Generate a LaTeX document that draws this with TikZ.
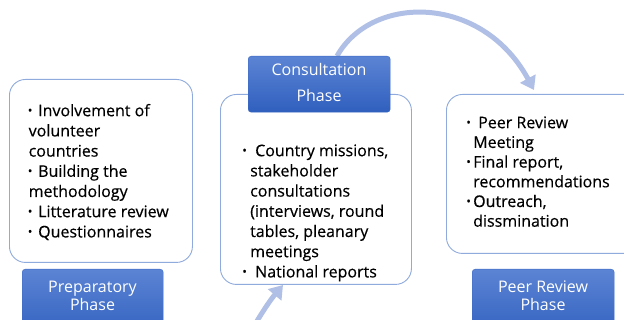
\documentclass[tikz,border=0pt]{standalone}
\usepackage{fontspec}
\setmainfont{Open Sans}
\newfontfamily\bodyfont{Open Sans}[FakeBold=0.4]
\usetikzlibrary{arrows.meta}
\definecolor{cardline}{HTML}{8FAADC}
\definecolor{flowc}{HTML}{B0BFE5}
\definecolor{phasetop}{HTML}{5C84D4}
\definecolor{phasebot}{HTML}{2F5FBE}
\newcommand\bx[1]{\makebox[#1][l]{\raisebox{-1.6pt}{\scalebox{1.35}{·}}}}
\newcommand\ind[1]{\hspace*{#1}}
\begin{document}
\begin{tikzpicture}[x=1pt,y=-1pt,
  card/.style={draw=cardline, fill=white, rounded corners=16pt, line width=0.9pt, inner sep=0pt},
  phase/.style={top color=phasetop, bottom color=phasebot, draw=phasebot!70!phasetop, rounded corners=3pt, inner sep=0pt},
  phasetext/.style={text=white, font=\fontsize{16}{18}\selectfont, inner sep=0pt, anchor=base},
  bodytext/.style={align=left, inner sep=0pt, anchor=north west, text=black},
  flow/.style={draw=flowc, line width=5pt, -{Triangle[width=17pt,length=13pt]}}]
\useasboundingbox (0,0) rectangle (624,320);
\clip (0,0) rectangle (624,320);
% arrows
\coordinate (topstart) at (337,56);
\coordinate (toptip) at (534,90);
\coordinate (botstart) at (254,326);
\coordinate (bottip) at (283,285);
\draw[flow] (topstart) .. controls (372,-6) and (482,-6) .. (toptip);
\draw[flow] (botstart) .. controls (266,306) and (272,298) .. (bottip);
% cards
\node[card, minimum width=183pt, minimum height=183pt, anchor=north west] (prepcard) at (9,79) {};
\node[card, minimum width=191pt, minimum height=190pt, anchor=north west] (conscard) at (220,94) {};
\node[card, minimum width=200pt, minimum height=159pt, anchor=north west] (peercard) at (446,94) {};
% card texts
\node[bodytext, font=\bodyfont\fontsize{16}{20.2}\selectfont] (preptxt) at (27,103) {\rule{0pt}{13pt}\bx{11pt}Involvement of\\
\ind{1.5pt}volunteer\\ \ind{1.5pt}countries\\ \bx{11pt}Building the\\ \ind{1.5pt}methodology\\ \bx{11pt}Litterature review\\ \bx{11pt}Questionnaires};
\node[bodytext, font=\bodyfont\fontsize{16}{20.2}\selectfont] (constxt) at (241.5,143) {\rule{0pt}{13pt}\bx{13.5pt}Country missions,\\
\ind{8.5pt}stakeholder\\ \ind{8.5pt}consultations\\ \ind{8.5pt}(interviews, round\\ \ind{8.5pt}tables, pleanary\\ \ind{8.5pt}meetings\\ \bx{13.5pt}National reports};
\node[bodytext, font=\bodyfont\fontsize{16}{19.7}\selectfont] (peertxt) at (465.5,115) {\rule{0pt}{13pt}\bx{12.5pt}Peer Review\\
\ind{7.5pt}Meeting\\ \bx{7.5pt}Final report,\\ \ind{7.5pt}recommendations\\ \bx{7.5pt}Outreach,\\ \ind{7.5pt}dissmination};
% phase headers
\node[phase, minimum width=141pt, minimum height=71pt, anchor=north west] (prephead) at (22,269) {};
\node[phase, minimum width=142pt, minimum height=56pt, anchor=north west] (conshead) at (248,56) {};
\node[phase, minimum width=142pt, minimum height=71pt, anchor=north west] (peerhead) at (472,269) {};
\node[phasetext] (prepl1) at (92.5,293) {Preparatory};
\node[phasetext] (prepl2) at (92.5,311) {Phase};
\node[phasetext] (consl1) at (319,76) {Consultation};
\node[phasetext] (consl2) at (319,102) {Phase};
\node[phasetext] (peerl1) at (543,293) {Peer Review};
\node[phasetext] (peerl2) at (543,311) {Phase};
\end{tikzpicture}
\end{document}
